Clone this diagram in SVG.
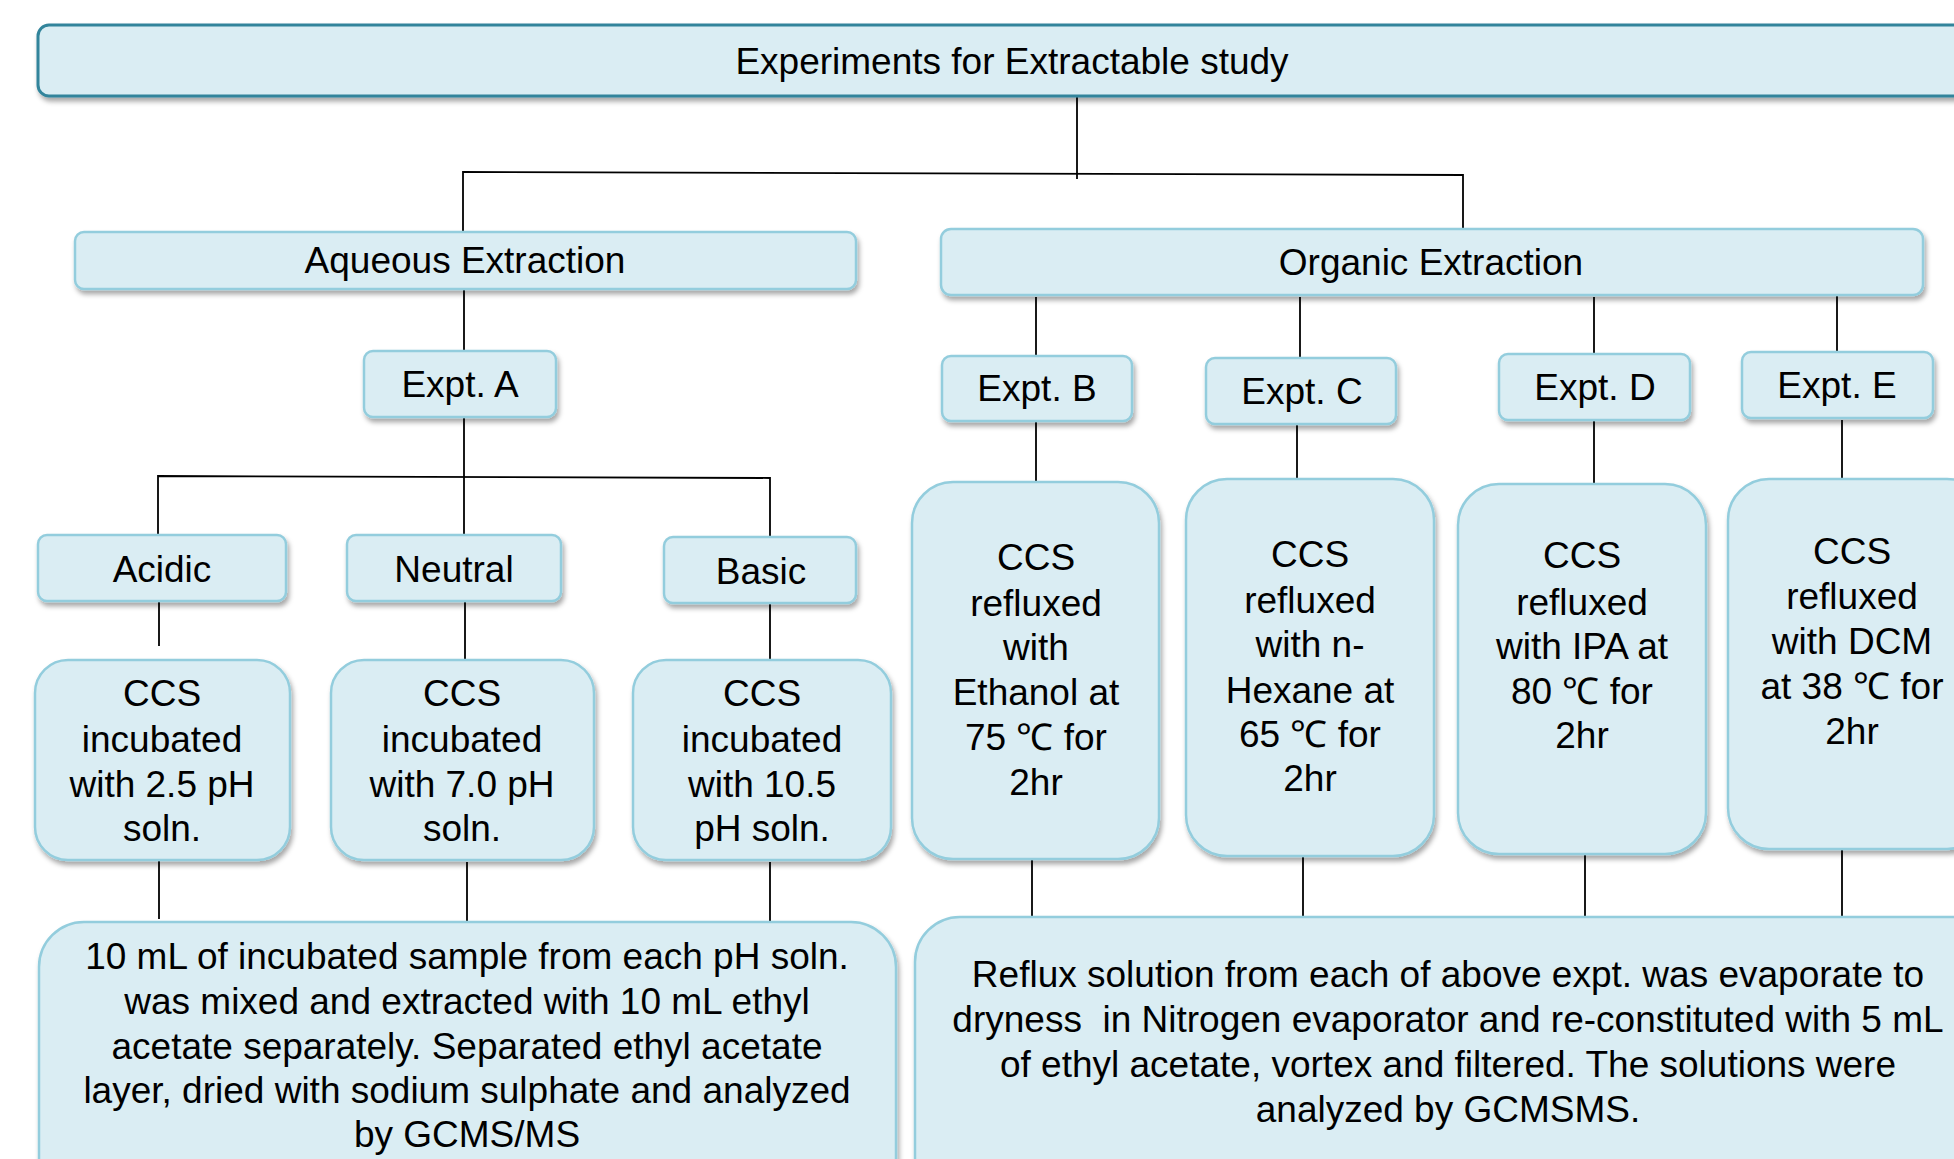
<svg xmlns="http://www.w3.org/2000/svg" width="1954" height="1159" viewBox="0 0 1954 1159">
<defs>
<filter id="sh" x="-10%" y="-10%" width="130%" height="130%">
<feDropShadow dx="2" dy="4" stdDeviation="2.5" flood-color="#000" flood-opacity="0.35"/>
</filter>
<style>
.box{fill:#DAEDF3;stroke:#93CDDD;stroke-width:2.5;filter:url(#sh)}
.top{fill:#DAEDF3;stroke:#31849B;stroke-width:3;filter:url(#sh)}
text{font-family:"Liberation Sans",Arial,sans-serif;font-size:37px;fill:#000;text-anchor:middle}
.c line,.c polyline{stroke:#000;stroke-width:1.8;fill:none}
</style>
</defs>
<rect width="1954" height="1159" fill="#fff"/>
<g class="c" id="connectors">
<line x1="1077" y1="97" x2="1077" y2="179"/>
<polyline points="463,232 463,172 1463,175 1463,229"/>
<line x1="464" y1="289" x2="464" y2="351"/>
<line x1="464" y1="417" x2="464" y2="535"/>
<polyline points="158,535 158,476 770,478 770,537"/>
<line x1="159" y1="601" x2="159" y2="646"/>
<line x1="465" y1="601" x2="465" y2="660"/>
<line x1="770" y1="603" x2="770" y2="660"/>
<line x1="159" y1="860" x2="159" y2="919"/>
<line x1="467" y1="862" x2="467" y2="923"/>
<line x1="770" y1="862" x2="770" y2="923"/>
<line x1="1036" y1="297" x2="1036" y2="356"/>
<line x1="1300" y1="297" x2="1300" y2="358"/>
<line x1="1594" y1="297" x2="1594" y2="354"/>
<line x1="1837" y1="293" x2="1837" y2="352"/>
<line x1="1036" y1="421" x2="1036" y2="482"/>
<line x1="1297" y1="424" x2="1297" y2="479"/>
<line x1="1594" y1="420" x2="1594" y2="484"/>
<line x1="1842" y1="420" x2="1842" y2="479"/>
<line x1="1032" y1="860" x2="1032" y2="919"/>
<line x1="1303" y1="857" x2="1303" y2="918"/>
<line x1="1585" y1="854" x2="1585" y2="918"/>
<line x1="1842" y1="849" x2="1842" y2="919"/>
</g>
<g id="title"><rect class="top" x="38" y="25" width="1940" height="71" rx="11"/><text x="1012" y="74">Experiments for Extractable study</text></g>
<g id="aqueous"><rect class="box" x="75" y="232" width="781" height="57" rx="9"/><text x="465" y="273">Aqueous Extraction</text></g>
<g id="organic"><rect class="box" x="941" y="229" width="982" height="66" rx="10"/><text x="1431" y="275">Organic Extraction</text></g>
<g id="exptA"><rect class="box" x="364" y="351" width="192" height="66" rx="9"/><text x="460" y="397">Expt. A</text></g>
<g id="exptB"><rect class="box" x="942" y="356" width="190" height="65" rx="9"/><text x="1037" y="401">Expt. B</text></g>
<g id="exptC"><rect class="box" x="1206" y="358" width="190" height="66" rx="9"/><text x="1302" y="404">Expt. C</text></g>
<g id="exptD"><rect class="box" x="1499" y="354" width="191" height="66" rx="9"/><text x="1595" y="400">Expt. D</text></g>
<g id="exptE"><rect class="box" x="1742" y="352" width="191" height="66" rx="9"/><text x="1837" y="398">Expt. E</text></g>
<g id="acidic"><rect class="box" x="38" y="535" width="248" height="66" rx="9"/><text x="162" y="582">Acidic</text></g>
<g id="neutral"><rect class="box" x="347" y="535" width="214" height="66" rx="9"/><text x="454" y="582">Neutral</text></g>
<g id="basic"><rect class="box" x="664" y="537" width="192" height="66" rx="9"/><text x="761" y="584">Basic</text></g>
<g id="ccsAcidic"><rect class="box" x="35" y="660" width="255" height="200" rx="33"/>
<text x="162" y="706">CCS</text><text x="162" y="752">incubated</text><text x="162" y="797">with 2.5 pH</text><text x="162" y="841">soln.</text></g>
<g id="ccsNeutral"><rect class="box" x="331" y="660" width="263" height="200" rx="33"/>
<text x="462" y="706">CCS</text><text x="462" y="752">incubated</text><text x="462" y="797">with 7.0 pH</text><text x="462" y="841">soln.</text></g>
<g id="ccsBasic"><rect class="box" x="633" y="660" width="258" height="200" rx="33"/>
<text x="762" y="706">CCS</text><text x="762" y="752">incubated</text><text x="762" y="797">with 10.5</text><text x="762" y="841">pH soln.</text></g>
<g id="ccsB"><rect class="box" x="912" y="482" width="247" height="377" rx="41"/>
<text x="1036" y="570">CCS</text><text x="1036" y="616">refluxed</text><text x="1036" y="660">with</text><text x="1036" y="705">Ethanol at</text><text x="1036" y="750">75 ℃ for</text><text x="1036" y="795">2hr</text></g>
<g id="ccsC"><rect class="box" x="1186" y="479" width="248" height="377" rx="41"/>
<text x="1310" y="567">CCS</text><text x="1310" y="613">refluxed</text><text x="1310" y="657">with n-</text><text x="1310" y="703">Hexane at</text><text x="1310" y="747">65 ℃ for</text><text x="1310" y="791">2hr</text></g>
<g id="ccsD"><rect class="box" x="1458" y="484" width="248" height="370" rx="41"/>
<text x="1582" y="568">CCS</text><text x="1582" y="615">refluxed</text><text x="1582" y="659">with IPA at</text><text x="1582" y="704">80 ℃ for</text><text x="1582" y="748">2hr</text></g>
<g id="ccsE"><rect class="box" x="1728" y="479" width="260" height="370" rx="41"/>
<text x="1852" y="564">CCS</text><text x="1852" y="609">refluxed</text><text x="1852" y="654">with DCM</text><text x="1852" y="699">at 38 ℃ for</text><text x="1852" y="744">2hr</text></g>
<g id="aqueousResult"><rect class="box" x="39" y="922" width="857" height="300" rx="45"/>
<text x="467" y="969">10 mL of incubated sample from each pH soln.</text>
<text x="467" y="1014">was mixed and extracted with 10 mL ethyl</text>
<text x="467" y="1059">acetate separately. Separated ethyl acetate</text>
<text x="467" y="1103">layer, dried with sodium sulphate and analyzed</text>
<text x="467" y="1147">by GCMS/MS</text></g>
<g id="organicResult"><rect class="box" x="915" y="917" width="1100" height="300" rx="45"/>
<text x="1448" y="987">Reflux solution from each of above expt. was evaporate to</text>
<text x="1448" y="1032" xml:space="preserve">dryness  in Nitrogen evaporator and re-constituted with 5 mL</text>
<text x="1448" y="1077">of ethyl acetate, vortex and filtered. The solutions were</text>
<text x="1448" y="1122">analyzed by GCMSMS.</text></g>
</svg>
